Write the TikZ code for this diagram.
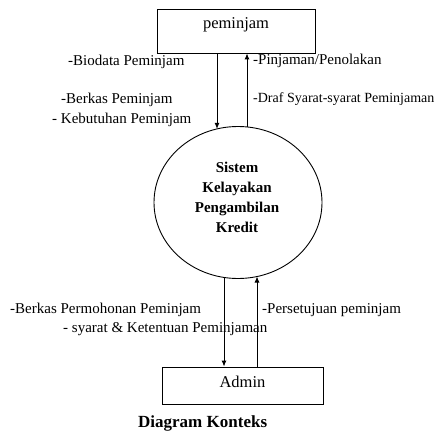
\documentclass[tikz,border=0pt]{standalone}
\usepackage{fontspec}
\setmainfont{Liberation Serif}
\usetikzlibrary{shapes.geometric,arrows.meta}
\tikzset{
  boxnode/.style={draw, line width=0.9pt, inner sep=0pt, font=\fontsize{16.5}{20}\selectfont},
  flow/.style={line width=0.9pt, -{Latex[length=6pt,width=5pt]}},
  lbl/.style={anchor=base west, inner sep=0pt, font=\fontsize{15}{19.5}\selectfont},
}
\begin{document}
\begin{tikzpicture}[x=1pt,y=-1pt]
\useasboundingbox[fill=white] (0,0) rectangle (435,436);
% entities
\node[boxnode, minimum width=158pt, minimum height=44pt, text height=10pt, text depth=14pt] (pem) at (236,31) {peminjam};
\node[boxnode, minimum width=161pt, minimum height=37pt, text height=10pt, text depth=7pt] (adm) at (242.5,385.5) {Admin};
% process
\node[draw, ellipse, line width=0.9pt, minimum width=168pt, minimum height=152pt, inner sep=0pt] (sys) at (238,202.5) {};
\node[align=center, inner sep=0pt, font=\bfseries\fontsize{15}{20}\selectfont] (systxt) at (237,197) {Sistem\\Kelayakan\\Pengambilan\\Kredit};
% border points on the process
\coordinate (t1) at (217,128.9);
\coordinate (t2) at (247,126.9);
\coordinate (b1) at (224,277.4);
\coordinate (b2) at (257,276.5);
% flows
\draw[flow] (pem.south -| t1) -- (t1);
\draw[flow] (t2) -- (pem.south -| t2);
\draw[flow] (b1) -- (adm.north -| b1);
\draw[flow] (adm.north -| b2) -- (b2);
% labels
\node[lbl] (l1) at (68,65) {-Biodata Peminjam};
\node[lbl] (l2) at (61,103) {-Berkas Peminjam};
\node[lbl] (l3) at (52,123) {- Kebutuhan Peminjam};
\node[lbl] (l4) at (253,64) {-Pinjaman/Penolakan};
\node[lbl, font=\fontsize{14}{18}\selectfont] (l5) at (253,102) {-Draf Syarat-syarat Peminjaman};
\node[lbl] (l6) at (10,313) {-Berkas Permohonan Peminjam};
\node[lbl] (l7) at (63,332) {- syarat \& Ketentuan Peminjaman};
\node[lbl] (l8) at (262,313) {-Persetujuan peminjam};
\node[anchor=base west, inner sep=0pt, font=\bfseries\fontsize{17}{20}\selectfont] (title) at (138,427) {Diagram Konteks};
\end{tikzpicture}
\end{document}
